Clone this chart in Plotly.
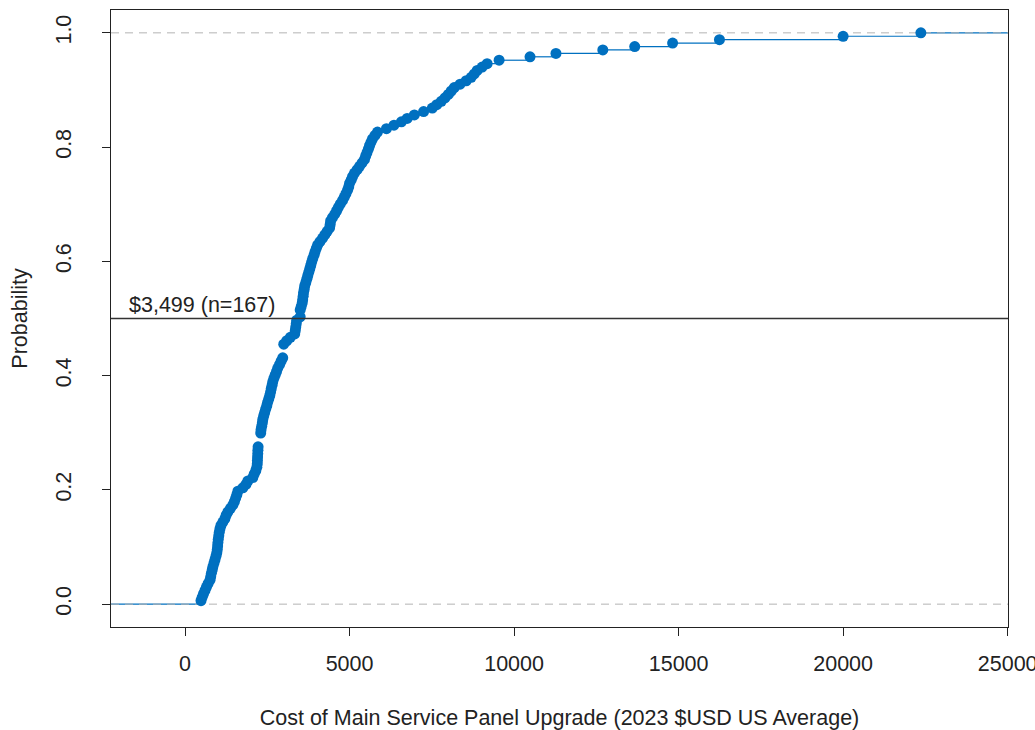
import plotly.graph_objects as go
import numpy as np

# Cost values read from the ECDF (USD, sorted)
costs = [
    485, 520, 560, 606, 650, 700, 758, 780, 800, 825,
    848, 880, 910, 940, 965, 980, 990, 1000, 1010, 1025,
    1040, 1060, 1091, 1150, 1212, 1250, 1303, 1380, 1454, 1500,
    1540, 1575, 1606, 1757, 1850, 1909, 2060, 2100, 2150, 2182,
    2195, 2200, 2205, 2210, 2215, 2220, 2300, 2300, 2300, 2300,
    2310, 2330, 2350, 2363, 2390, 2420, 2450, 2485, 2510, 2545,
    2576, 2600, 2620, 2645, 2666, 2700, 2740, 2780, 2818, 2870,
    2920, 2969, 3000, 3000, 3000, 3000, 3091, 3200, 3333, 3350,
    3365, 3380, 3394, 3499, 3500, 3500, 3530, 3560, 3575, 3590,
    3600, 3620, 3636, 3670, 3700, 3730, 3760, 3790, 3820, 3848,
    3880, 3920, 3950, 3990, 4030, 4100, 4181, 4250, 4320, 4394,
    4410, 4424, 4480, 4550, 4606, 4660, 4720, 4787, 4840, 4890,
    4939, 4975, 5000, 5050, 5090, 5150, 5230, 5303, 5380, 5454,
    5490, 5530, 5570, 5606, 5650, 5696, 5770, 5848, 6121, 6350,
    6575, 6750, 6969, 7250, 7514, 7650, 7787, 7900, 8000, 8090,
    8181, 8360, 8545, 8696, 8790, 8878, 9029, 9181, 9545, 10484,
    11272, 12696, 13666, 14817, 16241, 20000, 22362,
]
median_label = "$3,499 (n=167)"
x_ticks = [0, 5000, 10000, 15000, 20000, 25000]
x_tick_text = ["0", "5000", "10000", "15000", "20000", "25000"]
y_ticks = [0.0, 0.2, 0.4, 0.6, 0.8, 1.0]
y_tick_text = ["0.0", "0.2", "0.4", "0.6", "0.8", "1.0"]
x_lim = [-2250, 25010]
y_lim = [-0.04, 1.04]

BLUE = "#0070C0"
n = len(costs)
vals = np.array(sorted(costs), dtype=float)
ux, counts = np.unique(vals, return_counts=True)
uy = np.cumsum(counts) / n

# horizontal step segments (no verticals, like R's plot.ecdf)
sx, sy = [x_lim[0], ux[0], None], [0, 0, None]
for k in range(len(ux)):
    x_end = ux[k + 1] if k + 1 < len(ux) else x_lim[1]
    sx += [ux[k], x_end, None]
    sy += [uy[k], uy[k], None]

fig = go.Figure()
fig.add_trace(go.Scatter(x=sx, y=sy, mode="lines",
                         line=dict(color=BLUE, width=1.2), hoverinfo="skip",
                         showlegend=False))
for h in (0, 1):
    fig.add_trace(go.Scatter(x=x_lim, y=[h, h], mode="lines",
                             line=dict(color="#B3B3B3", width=1, dash="8px,6px"),
                             hoverinfo="skip", showlegend=False))
fig.add_trace(go.Scatter(x=ux, y=uy, mode="markers",
                         marker=dict(color=BLUE, size=11, line=dict(width=0)),
                         showlegend=False))
fig.add_trace(go.Scatter(x=x_lim, y=[0.5, 0.5], mode="lines",
                         line=dict(color="#333333", width=1.6),
                         hoverinfo="skip", showlegend=False))

FONT = "Liberation Sans, Arial, sans-serif"
FS = 21.5
fig.add_annotation(x=0.018, xref="paper", y=0.5, yref="y", text=median_label,
                   showarrow=False, xanchor="left", yanchor="bottom",
                   yshift=0, font=dict(family=FONT, size=FS, color="#222"))

axis_common = dict(showline=True, linecolor="#222", linewidth=1, mirror=True,
                   showgrid=False, zeroline=False, ticks="outside",
                   ticklen=8, tickcolor="#222", automargin=False,
                   ticklabeloverflow="allow",
                   tickfont=dict(family=FONT, size=FS, color="#222"))
fig.update_xaxes(range=x_lim, tickvals=x_ticks, ticktext=x_tick_text,
                 ticklabelstandoff=9,
                 title=dict(text="Cost of Main Service Panel Upgrade (2023 $USD US Average)",
                            font=dict(family=FONT, size=FS, color="#222"), standoff=35),
                 **axis_common)
fig.update_yaxes(range=y_lim, tickvals=y_ticks, ticktext=y_tick_text, tickangle=-90,
                 ticklabelstandoff=22,
                 title=dict(text="Probability",
                            font=dict(family=FONT, size=FS, color="#222"), standoff=18),
                 **axis_common)
fig.update_layout(width=1035, height=730, plot_bgcolor="white",
                  paper_bgcolor="white",
                  margin=dict(l=111, r=27, t=10, b=103))
fig.write_html("out.html")
